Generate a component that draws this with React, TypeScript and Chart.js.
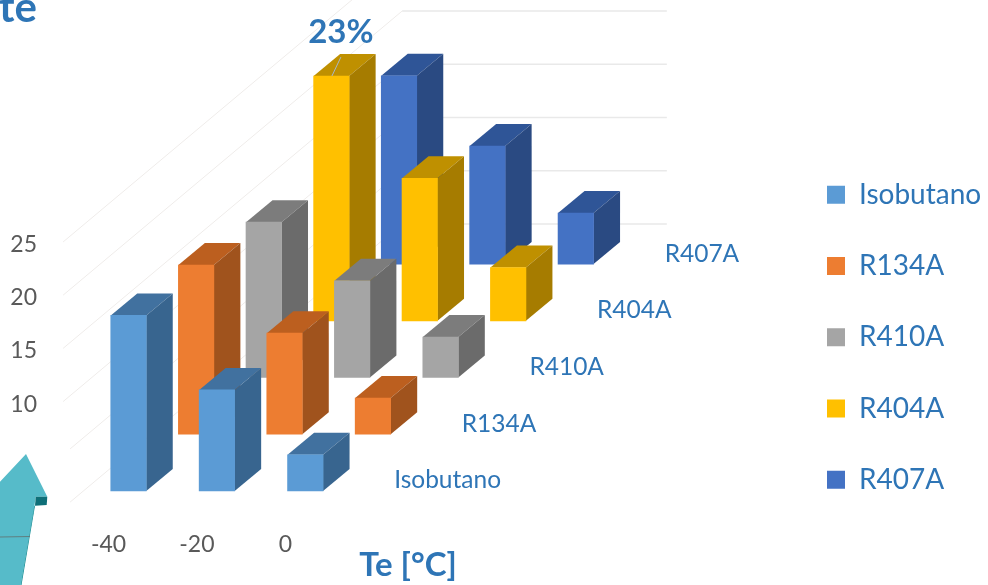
import { useEffect, useRef } from "react";
import { Chart, registerables } from "chart.js";

Chart.register(...registerables);

// Evaporation temperatures on the width axis
const temperatures = [-40, -20, 0];

// One row of bars per refrigerant, front to back
const seriesNames = ["Isobutano", "R134A", "R410A", "R404A", "R407A"];
const isobutano = [16.5, 9.5, 3.4];
const r134a = [15.9, 9.5, 3.4];
const r410a = [14.6, 9.1, 3.8];
const r404a = [23, 13.4, 5.0];
const r407a = [17.7, 11.1, 4.8];
const seriesValues = [isobutano, r134a, r410a, r404a, r407a];

const yTickValues = [10, 15, 20, 25];
const gridValues = [0, 5, 10, 15, 20, 25];

// Front, top and side face colours per row
const frontColors = ["#5B9BD5", "#ED7D31", "#A5A5A5", "#FFC000", "#4472C4"];
const topColors = ["#41719F", "#BC5F1F", "#7C7C7C", "#BF9000", "#2F5597"];
const sideColors = ["#38658F", "#A0531D", "#6B6B6B", "#A67C00", "#2A4A82"];

const TEXT_BLUE = "#2E75B6";
const TICK_GREY = "#595959";

// Oblique projection: each row further back moves right and up, in axis units
const ROW_STEP_X = 15.3;
const ROW_STEP_Y = 5.33;
const FLOOR_Y = 1.6;

// Depth of one bar in pixels
const BAR_DEPTH_X = 26.5;
const BAR_DEPTH_Y = 22;

// Floor and back wall, in axis units
const GRID_FRONT_X = -54.8;
const GRID_BACK_X = 21.9;
const GRID_END_X = 81.8;
const GRID_DEPTH_Y = 26.7;

// Anchor of the row captions on the floor
const CAPTION_X = 20.1;
const CAPTION_Y = 2.58;

const polygon = (ctx: CanvasRenderingContext2D, pts: number[][], fill: string) => {
  ctx.beginPath();
  pts.forEach(([x, y], i) => (i ? ctx.lineTo(x, y) : ctx.moveTo(x, y)));
  ctx.closePath();
  ctx.fillStyle = fill;
  ctx.fill();
};

// Back wall and slanted grid behind the bars
const wallGrid = {
  id: "wallGrid",
  beforeDatasetsDraw(chart: any) {
    const { ctx, scales } = chart;
    const { x, y } = scales;
    ctx.save();
    gridValues.forEach((v) => {
      const x0 = x.getPixelForValue(GRID_FRONT_X);
      const x1 = x.getPixelForValue(GRID_BACK_X);
      const x2 = x.getPixelForValue(GRID_END_X);
      const y0 = y.getPixelForValue(v);
      const y1 = y.getPixelForValue(v + GRID_DEPTH_Y);
      ctx.lineWidth = 1;
      ctx.strokeStyle = "#EFECEA";
      ctx.beginPath();
      const t = v <= 5 ? 7 / (x1 - x0) : 0;
      ctx.moveTo(x0 + (x1 - x0) * t, y0 + (y1 - y0) * t);
      ctx.lineTo(x1, y1);
      ctx.stroke();
      ctx.lineWidth = 1.5;
      ctx.strokeStyle = "#E9E9E9";
      ctx.beginPath();
      ctx.moveTo(x1, y1);
      ctx.lineTo(x2, y1);
      ctx.stroke();
    });
    ctx.restore();
  },
};

// Top and side faces of every bar, painted just before that row's fronts
const barDepth = {
  id: "barDepth",
  beforeDatasetDraw(chart: any, args: any) {
    const { ctx } = chart;
    const row = args.index;
    args.meta.data.forEach((bar: any) => {
      const l = bar.x - bar.width / 2;
      const r = bar.x + bar.width / 2;
      const t = Math.min(bar.y, bar.base);
      const b = Math.max(bar.y, bar.base);
      polygon(
        ctx,
        [
          [l, t],
          [l + BAR_DEPTH_X, t - BAR_DEPTH_Y],
          [r + BAR_DEPTH_X, t - BAR_DEPTH_Y],
          [r, t],
        ],
        topColors[row],
      );
      polygon(
        ctx,
        [
          [r, t],
          [r + BAR_DEPTH_X, t - BAR_DEPTH_Y],
          [r + BAR_DEPTH_X, b - BAR_DEPTH_Y],
          [r, b],
        ],
        sideColors[row],
      );
    });
  },
};

// Row captions, the highlighted value and the slide fragments around the chart
const annotations = {
  id: "annotations",
  afterLayout(chart: any) {
    const lg = chart.legend;
    lg.left += 46.75;
    lg.right += 46.75;
    lg.top += 137.5;
    lg.bottom += 137.5;
  },
  afterDatasetsDraw(chart: any) {
    const { ctx, scales } = chart;
    const { x, y } = scales;
    ctx.save();

    ctx.font = "24.5px Lato";
    ctx.fillStyle = TEXT_BLUE;
    ctx.textAlign = "left";
    ctx.textBaseline = "middle";
    seriesNames.forEach((name, i) => {
      ctx.fillText(
        name,
        x.getPixelForValue(CAPTION_X + i * ROW_STEP_X),
        y.getPixelForValue(CAPTION_Y + i * ROW_STEP_Y),
      );
    });

    // Peak value of R404A at -40 °C with its leader line
    const peak = chart.getDatasetMeta(3).data[0];
    ctx.strokeStyle = "#A9B7C6";
    ctx.lineWidth = 1;
    ctx.beginPath();
    ctx.moveTo(peak.x + 9.5, peak.y - 19);
    ctx.lineTo(peak.x + 0.5, peak.y);
    ctx.stroke();
    ctx.font = "bold 33px Lato";
    ctx.fillStyle = TEXT_BLUE;
    ctx.textAlign = "center";
    ctx.fillText(`${r404a[0]}%`, peak.x + 9.5, peak.y - 44);

    // Tail of the slide heading, cut by the top edge
    ctx.font = "bold 42px Lato";
    ctx.textAlign = "right";
    ctx.textBaseline = "alphabetic";
    ctx.fillText("te", 37, 21.5);

    // Teal arrow in the lower left corner
    polygon(ctx, [[0, 481.7], [26, 454], [47.3, 496.7], [35.7, 496.7], [34.3, 506.7], [20.7, 585], [0, 585]], "#56BBC9");
    polygon(ctx, [[35.7, 496.7], [47.3, 496.7], [46.7, 505], [35, 505.7]], "#0F6F78");
    polygon(ctx, [[34.3, 505.7], [35, 505.7], [21.5, 585], [20.7, 585]], "#0E8C95");
    ctx.strokeStyle = "#5F7F80";
    ctx.lineWidth = 1;
    ctx.beginPath();
    ctx.moveTo(0, 537);
    ctx.lineTo(30, 536.5);
    ctx.stroke();
    ctx.restore();
  },
};

const noEdgePadding = (axis: any) => {
  axis.paddingTop = 0;
  axis.paddingBottom = 0;
  axis.paddingLeft = 0;
  axis.paddingRight = 0;
};

export default function App() {
  const canvasRef = useRef<HTMLCanvasElement>(null);

  useEffect(() => {
    Chart.defaults.font.family = "Lato";
    const chart = new Chart(canvasRef.current!, {
      type: "bar",
      data: {
        datasets: seriesNames.map((label, row) => ({
          label,
          backgroundColor: frontColors[row],
          borderWidth: 0,
          barThickness: 35.5,
          grouped: false,
          data: seriesValues[row].map((v, i) => ({
            x: temperatures[i] + row * ROW_STEP_X,
            y: [FLOOR_Y + row * ROW_STEP_Y, FLOOR_Y + row * ROW_STEP_Y + v],
          })),
        })),
      } as any,
      plugins: [wallGrid, barDepth, annotations],
      options: {
        responsive: false,
        animation: false,
        layout: { padding: { left: 0, top: 0, bottom: 0, right: 51 } },
        plugins: {
          tooltip: { enabled: false },
          legend: {
            position: "right",
            align: "start",
            maxWidth: 200,
            labels: {
              boxWidth: 18,
              boxHeight: 18,
              padding: 43.25,
              color: TEXT_BLUE,
              font: { size: 28 },
            },
          },
        },
        scales: {
          x: {
            type: "linear",
            offset: false,
            min: -51.2,
            max: 97.67,
            grid: { display: false, drawTicks: false },
            border: { display: false },
            title: {
              display: true,
              text: "Te [°C]",
              color: TEXT_BLUE,
              font: { size: 33, weight: "bold" },
              padding: 0,
            },
            ticks: {
              color: TICK_GREY,
              font: { size: 23 },
              padding: 23,
              labelOffset: -20,
              autoSkip: false,
              maxRotation: 0,
            },
            afterBuildTicks: (axis: any) => {
              axis.ticks = temperatures.map((value) => ({ value }));
            },
            afterFit: (axis: any) => {
              axis.height = 77;
              noEdgePadding(axis);
            },
          },
          y: {
            type: "linear",
            min: 0,
            max: 47.74,
            grid: { display: false, drawTicks: false },
            border: { display: false },
            ticks: {
              color: TICK_GREY,
              font: { size: 23 },
              padding: 42,
              labelOffset: 2.5,
            },
            afterBuildTicks: (axis: any) => {
              axis.ticks = yTickValues.map((value) => ({ value }));
            },
            afterFit: (axis: any) => {
              axis.width = 79;
              noEdgePadding(axis);
            },
          },
        },
      },
    } as any);
    return () => chart.destroy();
  }, []);

  return (
    <div style={{ position: "fixed", left: 0, top: 0, width: 988, height: 585, overflow: "hidden" }}>
      <canvas ref={canvasRef} width={988} height={585} style={{ display: "block" }} />
    </div>
  );
}
